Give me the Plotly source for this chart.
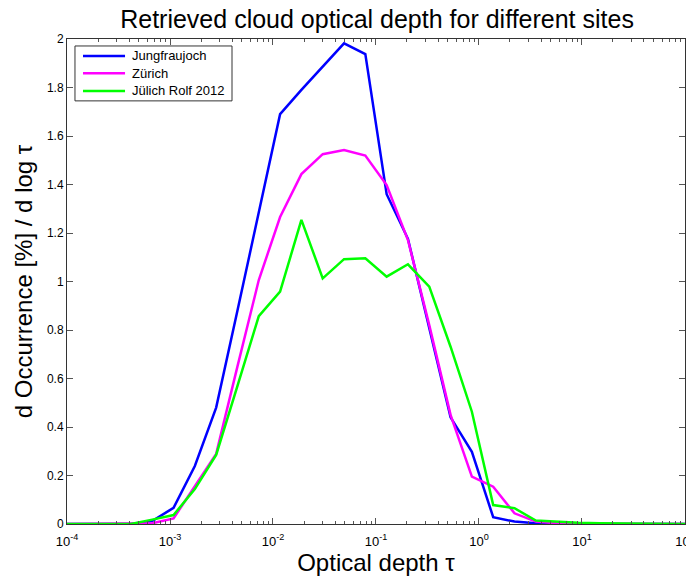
import plotly.graph_objects as go

# optical depth bin centres (log-spaced from 1e-4 to 1e2)
tau = [1.000e-4, 1.610e-4, 2.593e-4, 4.175e-4, 6.723e-4, 1.083e-3, 1.743e-3, 2.807e-3,
       4.520e-3, 7.279e-3, 1.172e-2, 1.887e-2, 3.039e-2, 4.894e-2, 7.880e-2, 1.269e-1,
       2.043e-1, 3.290e-1, 5.298e-1, 8.532e-1, 1.374, 2.212, 3.562, 5.736, 9.237,
       14.87, 23.95, 38.57, 62.10, 100.0]

jungfraujoch = [0, 0, 0, 0, 0.012, 0.067, 0.239, 0.48, 0.88, 1.29, 1.69, 1.79, 1.885, 1.982,
                1.938, 1.36, 1.176, 0.81, 0.44, 0.298, 0.028, 0.01, 0.003, 0, 0, 0, 0, 0, 0, 0]
zurich = [0, 0, 0, 0, 0.003, 0.023, 0.154, 0.289, 0.65, 1.006, 1.266, 1.443, 1.525, 1.542,
          1.519, 1.398, 1.171, 0.82, 0.45, 0.195, 0.154, 0.044, 0.01, 0.003, 0.001, 0, 0, 0, 0, 0]
juelich = [0, 0, 0, 0, 0.018, 0.037, 0.144, 0.285, 0.57, 0.857, 0.958, 1.254, 1.013, 1.092,
           1.096, 1.02, 1.071, 0.979, 0.731, 0.463, 0.078, 0.065, 0.014, 0.008, 0.005, 0.003,
           0.002, 0.001, 0, 0]

series_names = ["Jungfraujoch", "Zürich", "Jülich Rolf 2012"]
series_colors = ["#0000FF", "#FF00FF", "#00FF00"]

x_tickvals = [1e-4, 1e-3, 1e-2, 1e-1, 1e0, 1e1, 1e2]
x_ticktext = ["10<sup>-4</sup>", "10<sup>-3</sup>", "10<sup>-2</sup>", "10<sup>-1</sup>",
              "10<sup>0</sup>", "10<sup>1</sup>", "10<sup>2</sup>"]
y_tickvals = [0, 0.2, 0.4, 0.6, 0.8, 1, 1.2, 1.4, 1.6, 1.8, 2]
y_ticktext = ["0", "0.2", "0.4", "0.6", "0.8", "1", "1.2", "1.4", "1.6", "1.8", "2"]

FONT = "Liberation Sans, Arial, sans-serif"

fig = go.Figure()
for name, vals, col in zip(series_names, [jungfraujoch, zurich, juelich], series_colors):
    fig.add_trace(go.Scatter(x=tau, y=vals, mode="lines", name=name,
                             line=dict(color=col, width=2.5), showlegend=False))

axis_common = dict(showline=True, linecolor="#333333", linewidth=1, mirror="allticks",
                   ticks="inside", tickcolor="#555555", ticklen=6, showgrid=False,
                   zeroline=False, automargin=False)

fig.update_xaxes(type="log", range=[-4, 2.0002], tickvals=x_tickvals, ticktext=x_ticktext,
                 ticklabeloverflow="allow", ticklabelstandoff=5,
                 tickfont=dict(family=FONT, size=13, color="black"),
                 minor=dict(ticks="inside", ticklen=3, tickcolor="#555555", showgrid=False,
                            tickvals=[m * 10.0 ** e for e in range(-4, 2) for m in range(2, 10)]),
                 title=dict(text="Optical depth τ", font=dict(family=FONT, size=24, color="black"),
                            standoff=4),
                 **axis_common)
fig.update_yaxes(range=[0, 2], tickvals=y_tickvals, ticktext=y_ticktext,
                 tickfont=dict(family=FONT, size=12, color="black"),
                 title=dict(text="d Occurrence [%] / d log τ",
                            font=dict(family=FONT, size=24, color="black"), standoff=7),
                 **axis_common)

# legend box drawn in paper coordinates (MATLAB-style compact legend)
leg_x0, leg_x1, leg_y0, leg_y1 = 0.0129, 0.267, 0.8724, 0.9856
line_x0, line_x1, text_x = 0.0259, 0.0939, 0.1019
row_y = [0.965, 0.9294, 0.893]
fig.add_shape(type="rect", xref="paper", yref="paper", x0=leg_x0, x1=leg_x1, y0=leg_y0, y1=leg_y1,
              line=dict(color="#333333", width=1), fillcolor="white", layer="above")
for name, col, yy in zip(series_names, series_colors, row_y):
    fig.add_shape(type="line", xref="paper", yref="paper", x0=line_x0, x1=line_x1, y0=yy, y1=yy,
                  line=dict(color=col, width=2.5), layer="above")
    fig.add_annotation(xref="paper", yref="paper", x=text_x, y=yy, text=name, showarrow=False,
                       xanchor="left", yanchor="middle",
                       font=dict(family=FONT, size=13, color="black"))

fig.update_layout(
    width=686, height=573,
    margin=dict(l=59, r=9, t=31, b=57, autoexpand=False),
    paper_bgcolor="white", plot_bgcolor="white",
    title=dict(text="Retrieved cloud optical depth for different sites",
               font=dict(family=FONT, size=25, color="black"),
               x=0.538, xanchor="center", y=0.981, yanchor="middle"),
    showlegend=False,
)

fig.write_html("out.html")
